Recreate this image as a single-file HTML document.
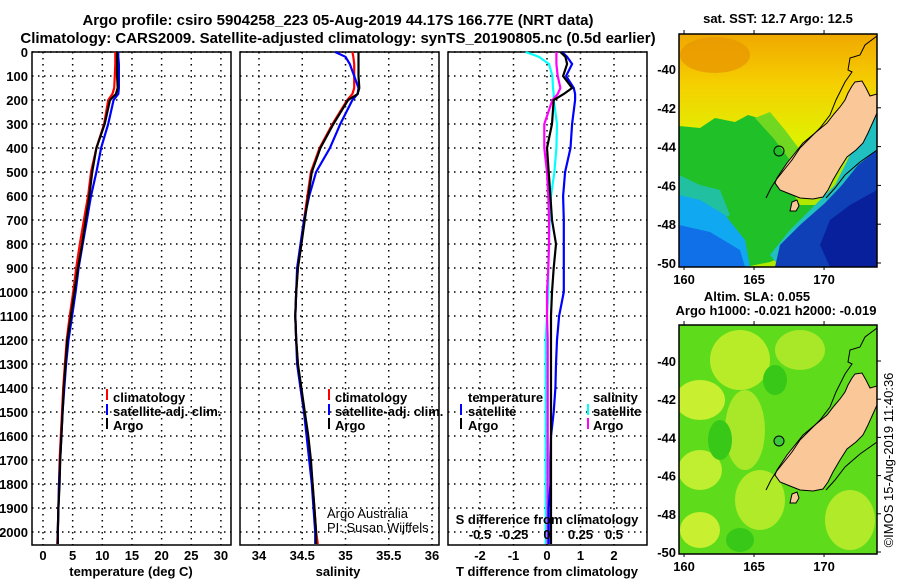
<!DOCTYPE html>
<html><head><meta charset="utf-8"><style>
html,body{margin:0;padding:0;background:#fff;}
svg{display:block;font-family:"Liberation Sans",sans-serif;}
.b{font-weight:bold;font-size:13px;}
.t{font-weight:bold;font-size:15px;}
</style></head><body>
<svg id="fig" width="900" height="580" viewBox="0 0 900 580" xmlns="http://www.w3.org/2000/svg">
<text class="t" x="338" y="25" text-anchor="middle">Argo profile: csiro 5904258_223 05-Aug-2019 44.17S 166.77E (NRT data)</text>
<text class="t" x="338" y="43" text-anchor="middle">Climatology: CARS2009. Satellite-adjusted climatology: synTS_20190805.nc (0.5d earlier)</text>
<g id="g1"></g>
<g id="g2"></g>
<g id="g3"></g>
<g id="ylab"></g>

<!-- legends -->
<g>
<rect x="106" y="389" width="2" height="11" fill="#f00"/><text class="b" x="113" y="402">climatology</text>
<rect x="106" y="404" width="2" height="11" fill="#00f"/><text class="b" x="113" y="416">satellite-adj. clim.</text>
<rect x="106" y="418" width="2" height="11" fill="#000"/><text class="b" x="113" y="430">Argo</text>
</g>
<g>
<rect x="328" y="389" width="2" height="11" fill="#f00"/><text class="b" x="335" y="402">climatology</text>
<rect x="328" y="404" width="2" height="11" fill="#00f"/><text class="b" x="335" y="416">satellite-adj. clim.</text>
<rect x="328" y="418" width="2" height="11" fill="#000"/><text class="b" x="335" y="430">Argo</text>
</g>
<g>
<text class="b" x="468" y="402">temperature</text>
<rect x="460" y="404" width="2" height="11" fill="#00f"/><text class="b" x="468" y="416">satellite</text>
<rect x="460" y="418" width="2" height="11" fill="#000"/><text class="b" x="468" y="430">Argo</text>
<text class="b" x="593" y="402">salinity</text>
<rect x="587" y="404" width="2" height="11" fill="#0ff"/><text class="b" x="593" y="416">satellite</text>
<rect x="587" y="418" width="2" height="11" fill="#f0f"/><text class="b" x="593" y="430">Argo</text>
</g>
<text x="327" y="518" font-size="13">Argo Australia</text>
<text x="327" y="532" font-size="13">PI: Susan Wijffels</text>
<text class="b" x="547" y="524" text-anchor="middle">S difference from climatology</text>
<g id="sdt"></g>
<text class="b" x="131" y="576" text-anchor="middle">temperature (deg C)</text>
<text class="b" x="338" y="576" text-anchor="middle">salinity</text>
<text class="b" x="547" y="576" text-anchor="middle">T difference from climatology</text>

<!-- map 1 -->
<text class="b" x="778" y="23" text-anchor="middle">sat. SST: 12.7 Argo: 12.5</text>
<defs>
<clipPath id="c1"><rect x="679" y="34" width="198" height="233"/></clipPath>
<clipPath id="c2"><rect x="679" y="325" width="198" height="229"/></clipPath>
<linearGradient id="gt" x1="0" y1="0" x2="0" y2="1"><stop offset="0" stop-color="#f0a800"/><stop offset="0.22" stop-color="#f5d000"/><stop offset="0.45" stop-color="#e0f000"/><stop offset="0.6" stop-color="#b0e800"/></linearGradient>
<g id="nz">
<polygon fill="#fac898" stroke="#000" stroke-width="1" points="855,82 862,81 866,88 870,96 877,94 877,113 868,133 863,143 856,150 847,157 840,168 833,180 828,190 823,197 813,199 800,198 790,194 780,190 775,183 777,178 787,163 795,153 803,143 815,133 827,123 834,114 840,107 845,100 848,93 852,86"/>
<polygon fill="#fac898" stroke="#000" stroke-width="1" points="792,202 797,200 799,206 796,211 790,211"/>
<polyline fill="none" stroke="#000" stroke-width="1" points="877,36 865,45 860,55 850,58 848,70 852,72 845,82 836,100 830,115 820,128 810,138 800,148 792,160 784,170 776,180 771,188 766,198"/>
<polyline fill="none" stroke="#000" stroke-width="1" points="877,150 860,162 845,175 835,188 826,198"/>
</g>
</defs>
<g clip-path="url(#c1)">
<rect x="679" y="34" width="198" height="233" fill="url(#gt)"/>
<ellipse cx="715" cy="55" rx="35" ry="18" fill="#e89800" opacity="0.8"/>
<polygon fill="#20c028" points="679,126 700,128 715,118 735,122 748,115 765,120 775,140 790,160 785,180 800,205 820,205 818,240 795,252 770,262 745,267 679,267"/>
<polygon fill="#70d820" points="755,118 770,112 785,130 800,150 790,160 775,140"/>
<polygon fill="#20c0a0" points="679,175 700,185 720,190 730,215 720,220 679,210"/>
<polygon fill="#10a8f0" points="679,195 700,200 725,215 745,240 750,267 679,267"/>
<polygon fill="#1070e8" points="679,225 710,232 740,250 745,267 679,267"/>
<polygon fill="#20c0c0" points="877,105 870,130 850,155 835,185 815,205 790,230 770,255 780,267 877,267"/>
<polygon fill="#1040b8" points="877,150 858,165 842,185 825,203 800,225 780,245 775,267 877,267"/>
<polygon fill="#08209c" points="877,190 850,205 830,220 820,245 830,267 877,267"/>
<use href="#nz"/>
<circle cx="779" cy="151" r="5" fill="none" stroke="#000" stroke-width="1"/>
</g>
<rect x="679" y="34" width="198" height="233" fill="none" stroke="#000" stroke-width="1.5"/>
<g id="m1ax"></g>

<!-- map 2 -->
<text class="b" x="757" y="301" text-anchor="middle">Altim. SLA: 0.055</text>
<text class="b" x="776" y="315" text-anchor="middle">Argo h1000: -0.021 h2000: -0.019</text>
<g clip-path="url(#c2)">
<rect x="679" y="325" width="198" height="229" fill="#5edc1c"/>
<ellipse cx="740" cy="360" rx="30" ry="30" fill="#b8ec28"/>
<ellipse cx="700" cy="400" rx="25" ry="20" fill="#c8f030"/>
<ellipse cx="745" cy="430" rx="20" ry="40" fill="#a8e828"/>
<ellipse cx="700" cy="470" rx="22" ry="20" fill="#c0ee30"/>
<ellipse cx="760" cy="500" rx="25" ry="30" fill="#b0ea28"/>
<ellipse cx="700" cy="530" rx="20" ry="18" fill="#c8f030"/>
<ellipse cx="800" cy="350" rx="25" ry="20" fill="#a8e828"/>
<ellipse cx="850" cy="520" rx="25" ry="30" fill="#b0ea28"/>
<ellipse cx="720" cy="440" rx="12" ry="20" fill="#38c818"/>
<ellipse cx="775" cy="380" rx="12" ry="15" fill="#38c818"/>
<ellipse cx="740" cy="540" rx="14" ry="12" fill="#38c818"/>
<g transform="translate(0,292)"><use href="#nz"/></g>
<circle cx="779" cy="441" r="5" fill="#3cc83c" stroke="#000" stroke-width="1"/>
</g>
<rect x="679" y="325" width="198" height="229" fill="none" stroke="#000" stroke-width="1.5"/>
<g id="m2ax"></g>
<text x="893" y="460" font-size="13" text-anchor="middle" transform="rotate(-90 893 460)">©IMOS 15-Aug-2019 11:40:36</text>
</svg>
<script>
const depthTicks=[0,100,200,300,400,500,600,700,800,900,1000,1100,1200,1300,1400,1500,1600,1700,1800,1900,2000];
const tempTicks=[0,5,10,15,20,25,30];
const salTicks=[34,34.5,35,35.5,36];
const tdTicks=[-2,-1,0,1,2];
const sdTicks=[-0.5,-0.25,0,0.25,0.5];
const sdTickLabels=["-0.5","-0.25","0","0.25","0.5"];
const depths=[0,20,50,100,150,175,200,300,400,500,600,700,800,900,1000,1100,1200,1300,1400,1500,1600,1700,1800,1900,2000,2050];
const tempClim=[12.2,12.2,12.2,12.1,12.0,11.7,11.0,10.3,9.0,8.1,7.6,6.9,6.2,5.6,5.1,4.5,4.0,3.7,3.4,3.2,3.0,2.8,2.7,2.6,2.5,2.4];
const tempSat=[12.7,12.7,12.8,12.8,12.8,12.7,11.9,11.0,9.8,9.0,8.1,7.4,6.7,6.0,5.5,4.9,4.3,3.9,3.6,3.3,3.1,2.9,2.7,2.6,2.5,2.5];
const tempArgo=[12.5,12.5,12.5,12.5,12.6,12.3,11.3,10.4,9.0,8.3,7.8,7.2,6.6,5.9,5.3,4.7,4.1,3.8,3.5,3.3,3.1,2.9,2.8,2.6,2.5,2.5];
const salClim=[35.08,35.09,35.10,35.10,35.10,35.08,35.02,34.85,34.70,34.60,34.56,34.52,34.49,34.45,34.43,34.42,34.43,34.45,34.48,34.52,34.56,34.59,34.62,34.64,34.66,34.68];
const salSat=[34.88,35.00,35.05,35.10,35.15,35.14,35.08,34.94,34.82,34.66,34.58,34.52,34.48,34.44,34.43,34.42,34.43,34.44,34.48,34.52,34.55,34.58,34.61,34.63,34.65,34.65];
const salArgo=[35.15,35.15,35.15,35.15,35.16,35.14,35.03,34.86,34.71,34.61,34.57,34.53,34.49,34.45,34.43,34.42,34.43,34.45,34.49,34.53,34.57,34.60,34.62,34.64,34.66,34.66];
const tdSat=[0.45,0.6,0.75,0.57,0.8,0.84,0.84,0.75,0.7,0.54,0.48,0.5,0.5,0.5,0.5,0.36,0.3,0.27,0.25,0.2,0.12,0.1,0.1,0.05,0.05,0.05];
const tdArgo=[0.4,0.55,0.6,0.48,0.75,0.5,0.2,0.15,0.0,0.05,0.1,0.15,0.27,0.2,0.15,0.12,0.12,0.12,0.12,0.12,0.12,0.12,0.12,0.12,0.12,0.12];
const sdSat=[-0.16,-0.06,0.015,0.04,0.045,0.05,0.05,0.075,0.07,0.055,0.03,0.02,0.015,0.01,0.01,0.0,-0.01,-0.01,-0.01,-0.01,-0.01,-0.01,-0.01,-0.01,-0.01,-0.01];
const sdArgo=[0.07,0.07,0.07,0.08,0.1,0.08,0.04,-0.02,-0.02,0.0,0.01,0.015,0.015,0.01,0.0,0.0,0.005,0.005,0.005,0.005,0.005,0.005,0.005,0.005,0.005,0.005];
const lonTicks=[160,165,170];
const latTicks=[-40,-42,-44,-46,-48,-50];

const NS='http://www.w3.org/2000/svg';
function mk(p,tag,a){const e=document.createElementNS(NS,tag);for(const k in a)e.setAttribute(k,a[k]);p.appendChild(e);return e;}
const yD=d=>52+d*0.24;
const TOP=52,BOT=545;
const panels=[
 {g:'g1',x0:32,x1:231,sx:v=>43+v*5.93,ticks:tempTicks},
 {g:'g2',x0:240,x1:439,sx:v=>259+(v-34)*86.5,ticks:salTicks},
 {g:'g3',x0:448,x1:647,sx:v=>547+v*33.5,ticks:tdTicks}
];
const sdx=v=>547+v*134;
panels.forEach((p,i)=>{
 const g=document.getElementById(p.g);
 depthTicks.forEach(d=>{const l=mk(g,'line',{x1:p.x0,x2:p.x1,y1:yD(d),y2:yD(d),stroke:'#000','stroke-width':1.5,'stroke-dasharray':'1.5 4.5'});
 
 });
 p.ticks.forEach((v,j)=>{const x=p.sx(v);
  const l=mk(g,'line',{x1:x,x2:x,y1:TOP,y2:BOT,stroke:'#000','stroke-width':1.5,'stroke-dasharray':'1.5 4.5'});
  
  
  const t=mk(g,'text',{x:x,y:560,'text-anchor':'middle',class:'b'});t.textContent=String(v);
  
  });
 const r=mk(g,'rect',{x:p.x0,y:TOP,width:p.x1-p.x0,height:BOT-TOP,fill:'none',stroke:'#000','stroke-width':1.5});
 
 
});
const yl=document.getElementById('ylab');
depthTicks.forEach(d=>{const t=mk(yl,'text',{x:28,y:yD(d)+5,'text-anchor':'end',class:'b'});t.textContent=String(d);
 
 });
const sdt=document.getElementById('sdt');
sdTicks.forEach((v,i)=>{const t=mk(sdt,'text',{x:sdx(v),y:539,'text-anchor':'middle',class:'b'});t.textContent=sdTickLabels[i];
 
 });
function line(gid,vals,sx,color,name){
 const g=document.getElementById(gid);
 const pts=vals.map((v,i)=>sx(v).toFixed(1)+','+yD(depths[i]).toFixed(1)).join(' ');
 const l=mk(g,'polyline',{points:pts,fill:'none',stroke:color,'stroke-width':2.2});
 
 
}
line('g1',tempClim,panels[0].sx,'#f00','temp-climatology-line');
line('g1',tempSat,panels[0].sx,'#00f','temp-satellite-line');
line('g1',tempArgo,panels[0].sx,'#000','temp-argo-line');
line('g2',salClim,panels[1].sx,'#f00','sal-climatology-line');
line('g2',salSat,panels[1].sx,'#00f','sal-satellite-line');
line('g2',salArgo,panels[1].sx,'#000','sal-argo-line');
line('g3',sdSat,sdx,'#0ff','s-diff-satellite-line');
line('g3',sdArgo,sdx,'#f0f','s-diff-argo-line');
line('g3',tdSat,panels[2].sx,'#00f','t-diff-satellite-line');
line('g3',tdArgo,panels[2].sx,'#000','t-diff-argo-line');
function mapAxes(gid,top,bottom,lat40,pxLat){
 const g=document.getElementById(gid);
 lonTicks.forEach(v=>{const x=679+(v-159.64)*14;
  const t=mk(g,'text',{x:x,y:bottom+17,'text-anchor':'middle',class:'b'});t.textContent=String(v);
  
  
  mk(g,'line',{x1:x,x2:x,y1:top,y2:top-4,stroke:'#000'});
  mk(g,'line',{x1:x,x2:x,y1:bottom,y2:bottom+3,stroke:'#000'});});
 latTicks.forEach(v=>{const y=lat40+(-40-v)*pxLat;
  const t=mk(g,'text',{x:676,y:y+5,'text-anchor':'end',class:'b'});t.textContent=String(v);
  
  
  mk(g,'line',{x1:877,x2:881,y1:y,y2:y,stroke:'#000'});});
}
mapAxes('m1ax',34,267,69,19.4);
mapAxes('m2ax',325,554,361,19.1);
</script>
</body></html>
